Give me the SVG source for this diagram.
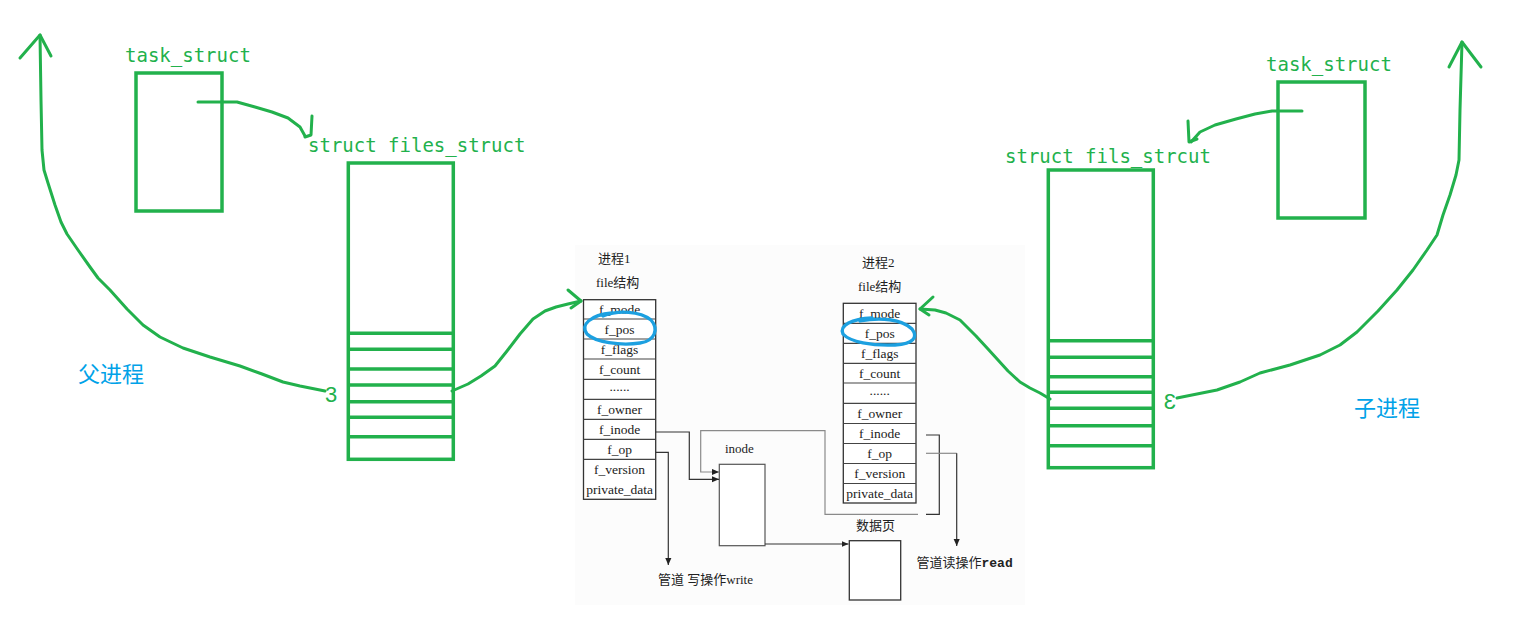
<svg xmlns="http://www.w3.org/2000/svg" width="1517" height="635" viewBox="0 0 1517 635">
<style>
.g{fill:none;stroke:#22b14c;stroke-width:3;stroke-linecap:round;stroke-linejoin:round}
.gb{fill:none;stroke:#22b14c;stroke-width:3.5}
.gt{font-family:"DejaVu Sans Mono","Liberation Mono",monospace;font-size:19px;fill:#22b14c}
.bt{font-family:"Noto Sans CJK SC","Noto Sans",sans-serif;font-size:22px;fill:#00a2e8}
.num{font-family:"Liberation Sans",Arial,sans-serif;font-size:22px;fill:#22b14c}
.tb{fill:#fff;stroke:#333;stroke-width:1.3}
.rl{stroke:#444;stroke-width:1.2}
.ct{font-family:"Liberation Serif","Noto Sans CJK SC",serif;font-size:13.5px;fill:#222;text-anchor:middle}
.cl{font-family:"Liberation Serif","Noto Sans CJK SC",serif;font-size:13px;fill:#222}
.ln{fill:none;stroke:#333;stroke-width:1.2}
.lg{fill:none;stroke:#8a8a8a;stroke-width:1.2}
.bl{fill:none;stroke:#1ca0e0;stroke-width:3.3;stroke-linecap:round;stroke-linejoin:round}
</style>
<defs>
<marker id="ah" viewBox="0 0 8 8" refX="8" refY="4" markerWidth="7" markerHeight="7" orient="auto" markerUnits="userSpaceOnUse"><path d="M0,0.5 L8,4 L0,7.5 z" fill="#222"/></marker>
</defs>
<rect x="0" y="0" width="1517" height="635" fill="#fff"/>
<rect x="575" y="245" width="450" height="360" fill="#fcfcfc"/>

<!-- left process -->
<g id="left-task">
<text class="gt" x="125" y="62">task_struct</text>
<rect class="gb" x="136" y="73" width="86" height="138"/>
</g>
<g id="left-files">
<text class="gt" x="308" y="152">struct files_struct</text>
<rect class="gb" x="348.3" y="163" width="105" height="296.3"/>
<path class="gb" d="M348.3,333.3H453.3M348.3,349.3H453.3M348.3,369H453.3M348.3,385H453.3M348.3,401.7H453.3M348.3,417.3H453.3M348.3,436.7H453.3"/>
</g>
<g id="left-label">
<text class="bt" x="78" y="382">父进程</text>
<text class="num" x="325" y="402">3</text>
</g>

<!-- right process -->
<g id="right-task">
<text class="gt" x="1266" y="71">task_struct</text>
<rect class="gb" x="1278" y="82" width="87" height="136"/>
</g>
<g id="right-files">
<text class="gt" x="1005" y="163">struct fils_strcut</text>
<rect class="gb" x="1048.3" y="170" width="105" height="297.7"/>
<path class="gb" d="M1048.3,340.7H1153.3M1048.3,357.3H1153.3M1048.3,376.7H1153.3M1048.3,392.3H1153.3M1048.3,408.3H1153.3M1048.3,425.7H1153.3M1048.3,445.7H1153.3"/>
</g>
<g id="right-label">
<text class="bt" x="1354" y="416">子进程</text>
<text class="num" transform="translate(1176,408.5) scale(-1,1)" x="0" y="0">3</text>
</g>

<!-- process 1 file struct -->
<g id="file1">
<text class="cl" x="598" y="263">进程1</text>
<text class="cl" x="596" y="287">file结构</text>
<rect class="tb" x="583.5" y="299.7" width="72.2" height="199.6"/>
<path class="rl" d="M583.5,319H655.7M583.5,339H655.7M583.5,359H655.7M583.5,379.3H655.7M583.5,399.3H655.7M583.5,419.3H655.7M583.5,439.3H655.7M583.5,459.3H655.7"/>
<text class="ct" x="619.6" y="314">f_mode</text>
<text class="ct" x="619.6" y="333.5">f_pos</text>
<text class="ct" x="619.6" y="353.5">f_flags</text>
<text class="ct" x="619.6" y="373.5">f_count</text>
<text class="ct" x="619.6" y="391">......</text>
<text class="ct" x="619.6" y="413.5">f_owner</text>
<text class="ct" x="619.6" y="433.5">f_inode</text>
<text class="ct" x="619.6" y="453.5">f_op</text>
<text class="ct" x="619.6" y="473.5">f_version</text>
<text class="ct" x="619.6" y="493.5">private_data</text>
<path class="bl" d="M603,316 C618,310 640,311 651,320 C659,329 655,341 640,343 C620,346 595,342 587,334 C580,325 590,315 612,313"/>
</g>

<!-- process 2 file struct -->
<g id="file2">
<text class="cl" x="862" y="267">进程2</text>
<text class="cl" x="858" y="291">file结构</text>
<rect class="tb" x="843.3" y="303.3" width="72.7" height="199.7"/>
<path class="rl" d="M843.3,323.3H916M843.3,343.3H916M843.3,363.3H916M843.3,383H916M843.3,403.3H916M843.3,423.5H916M843.3,443.5H916M843.3,463.5H916M843.3,483.5H916"/>
<text class="ct" x="879.7" y="317.5">f_mode</text>
<text class="ct" x="879.7" y="337.5">f_pos</text>
<text class="ct" x="879.7" y="357.5">f_flags</text>
<text class="ct" x="879.7" y="377.5">f_count</text>
<text class="ct" x="879.7" y="395">......</text>
<text class="ct" x="879.7" y="417.5">f_owner</text>
<text class="ct" x="879.7" y="437.5">f_inode</text>
<text class="ct" x="879.7" y="457.5">f_op</text>
<text class="ct" x="879.7" y="477.5">f_version</text>
<text class="ct" x="879.7" y="497.5">private_data</text>
<path class="bl" d="M860,321 C880,317 902,319 912,329 C918,337 914,344 895,345 C872,346 850,342 843,334 C839,325 852,319 872,318"/>
</g>

<g id="inode">
<text class="cl" x="725" y="453">inode</text>
<rect x="719.3" y="464.3" width="45.7" height="81.4" fill="#fff" stroke="#555" stroke-width="1.2"/>
</g>
<g id="datapage">
<text class="cl" x="856" y="530">数据页</text>
<rect x="849.3" y="540.7" width="51.4" height="59.3" fill="#fff" stroke="#333" stroke-width="1.3"/>
</g>
<g id="pipe-labels">
<text class="cl" x="658" y="584">管道 写操作write</text>
<text class="cl" x="916.5" y="567">管道读操作<tspan font-family="Liberation Mono,monospace" font-weight="bold">read</tspan></text>
</g>

<g id="connectors">
<path class="g" d="M198,102 L237,102 L255,107 L272,112 L288,118 L300,127 L305,136"/>
<path class="g" d="M312,116 L311,135 L305,137"/>
<path class="g" d="M1302,111 L1272,111 L1255,114 L1236,119 L1215,125 L1200,132 L1191,142"/>
<path class="g" d="M1188,121 L1189,142 L1197,139"/>
<path class="g" d="M325,391 L300,386 L283,382 L262,374 L240,366 L210,357 L183,348 L160,337 L143,325 L127,309 L110,290 L98,278 L90,267 L78,250 L67,234 L61,222 L55,205 L48,183 L44,170 L42,150 L41,100 L40,35"/>
<path class="g" d="M20,58 L40,35 L51,56"/>
<path class="g" d="M1177,398 L1197,394 L1217,390 L1240,382 L1260,373 L1290,365 L1320,355 L1340,345 L1357,332 L1378,311 L1397,290 L1413,270 L1427,250 L1437,235 L1443,215 L1450,195 L1456,175 L1459,160 L1460,110 L1462,42"/>
<path class="g" d="M1449,67 L1462,42 L1481,67"/>
<path class="g" d="M452,391 L468,384 L481,376 L495,366 L507,351 L520,334 L533,319 L545,311 L556,307 L568,304 L581,301"/>
<path class="g" d="M568,290 L581,301 L571,308"/>
<path class="g" d="M1050,399 L1040,393 L1030,388 L1020,382 L1008,371 L998,360 L988,349 L976,336 L960,320 L946,313 L935,310 L920,309"/>
<path class="g" d="M933,297 L920,309 L929,315"/>
<path class="ln" d="M655.7,432 H689.3 V479.3 H719" marker-end="url(#ah)"/>
<path class="lg" d="M918,514.3 H825 V430.7 H700.7 V472 H719" marker-end="url(#ah)"/>
<path class="ln" d="M926,435 H939.3 V514.3 H926"/>
<path class="ln" d="M655.7,452.3 H668.3 V565" marker-end="url(#ah)"/>
<path class="ln" d="M765,544 H848.5" marker-end="url(#ah)"/>
<path class="lg" d="M926,453.3 H956.7"/>
<path class="ln" d="M956.7,453.3 V546" marker-end="url(#ah)"/>
</g>
</svg>
